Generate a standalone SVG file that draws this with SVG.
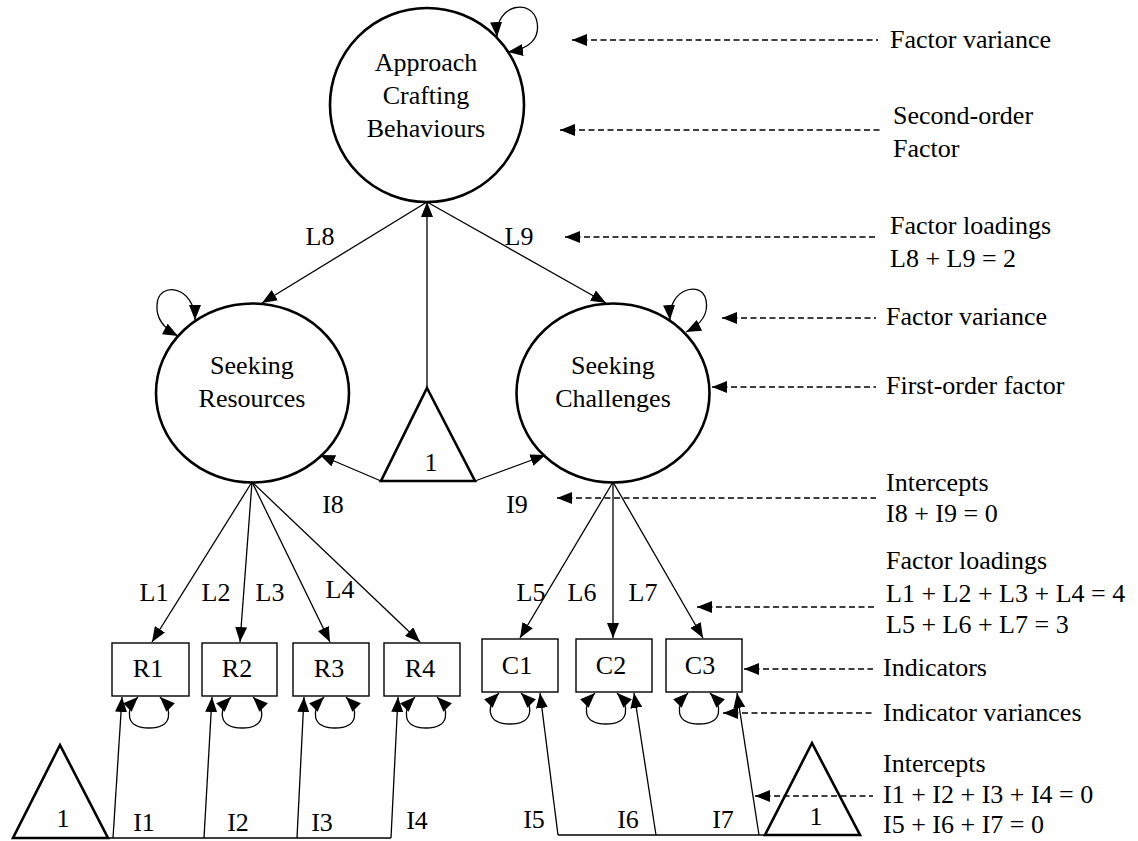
<svg xmlns="http://www.w3.org/2000/svg" width="1138" height="841" viewBox="0 0 1138 841" font-family="'Liberation Serif', 'Times New Roman', Times, 'DejaVu Serif', serif">
<defs>
<marker id="ah" markerUnits="userSpaceOnUse" markerWidth="15" markerHeight="12" refX="15" refY="6" orient="auto-start-reverse" viewBox="0 0 15 12"><path d="M0,0 L15,6 L0,12 z" fill="#000"/></marker>
</defs>
<style>
text{font-family:"Liberation Serif","Times New Roman",Times,"DejaVu Serif",serif;font-size:26px;fill:#000}
.c{text-anchor:middle}
.lat{fill:#fff;stroke:#000;stroke-width:2.6}
.box{fill:#fff;stroke:#000;stroke-width:1.4}
.tri{fill:#fff;stroke:#000;stroke-width:2.6}
.e{fill:none;stroke:#000;stroke-width:1.3}
.a{marker-end:url(#ah)}
.b{marker-start:url(#ah);marker-end:url(#ah)}
.d{fill:none;stroke:#000;stroke-width:1.3;stroke-dasharray:6 3.5;marker-start:url(#ah)}
</style>
<rect width="1138" height="841" fill="#fff"/>

<g id="node-acb"><circle class="lat" cx="427" cy="105" r="97"/>
<text class="c" x="426" y="71">Approach</text><text class="c" x="426" y="104">Crafting</text><text class="c" x="426" y="137">Behaviours</text></g>
<g id="node-sr"><ellipse class="lat" cx="252.5" cy="393" rx="96.5" ry="89.5"/>
<text class="c" x="252" y="374">Seeking</text><text class="c" x="252" y="407">Resources</text></g>
<g id="node-sc"><ellipse class="lat" cx="613" cy="393" rx="96.5" ry="89.5"/>
<text class="c" x="613" y="374">Seeking</text><text class="c" x="613" y="407">Challenges</text></g>
<g id="node-const-mid"><polygon class="tri" points="427,388 475,481 381,481"/><text class="c" x="431" y="471">1</text></g>
<g id="node-const-left"><polygon class="tri" points="60,745 108,838 13,838"/><text class="c" x="63" y="827">1</text></g>
<g id="node-const-right"><polygon class="tri" points="812,743 860,835 765,835"/><text class="c" x="816" y="825">1</text></g>
<g id="node-R1"><rect class="box" x="112" y="643" width="77" height="53"/><text class="c" x="148" y="677">R1</text></g>
<g id="node-R2"><rect class="box" x="202" y="643" width="75" height="53"/><text class="c" x="237" y="677">R2</text></g>
<g id="node-R3"><rect class="box" x="293" y="643" width="76" height="53"/><text class="c" x="329" y="677">R3</text></g>
<g id="node-R4"><rect class="box" x="384" y="643" width="76" height="53"/><text class="c" x="420" y="677">R4</text></g>
<g id="node-C1"><rect class="box" x="482" y="639" width="76" height="53"/><text class="c" x="517" y="674">C1</text></g>
<g id="node-C2"><rect class="box" x="576" y="639" width="76" height="53"/><text class="c" x="611" y="674">C2</text></g>
<g id="node-C3"><rect class="box" x="666" y="639" width="76" height="53"/><text class="c" x="700" y="674">C3</text></g>

<g id="connectors">
<path class="e b" d="M497,37 C495,3 533,-2 537,22 C540,38 530,49 508,52"/>
<path class="e b" d="M195,320 C195,286 158,280 157,305 C156,318 163,328 178,336"/>
<path class="e b" d="M670,320 C668,288 702,280 706,300 C709,315 700,325 686,332"/>
<path class="e a" d="M427,202 L262,303"/>
<path class="e a" d="M427,202 L606,303"/>
<path class="e a" d="M427,388 L427,202"/>
<path class="e a" d="M381,481 L320,455"/>
<path class="e a" d="M475,481 L545.5,455"/>
<path class="e a" d="M252,482 L152,642"/>
<path class="e a" d="M252,482 L240,642"/>
<path class="e a" d="M252,482 L330,642"/>
<path class="e a" d="M252,482 L420,642"/>
<path class="e a" d="M613,482 L520,638"/>
<path class="e a" d="M613,482 L613,638"/>
<path class="e a" d="M613,482 L703,638"/>
<path class="e b" d="M138,697 C125,710 125,728 149,728 C173,728 173,710 160,697"/>
<path class="e b" d="M231,697 C218,710 218,728 242,728 C266,728 266,710 253,697"/>
<path class="e b" d="M324,697 C311,710 311,728 335,728 C359,728 359,710 346,697"/>
<path class="e b" d="M415,697 C402,710 402,728 426,728 C450,728 450,710 437,697"/>
<path class="e b" d="M499,693 C486,706 486,724 510,724 C534,724 534,706 521,693"/>
<path class="e b" d="M595,693 C582,706 582,724 606,724 C630,724 630,706 617,693"/>
<path class="e b" d="M688,693 C675,706 675,724 699,724 C723,724 723,706 710,693"/>
<path class="e" d="M108,838 L391,838"/>
<path class="e a" d="M113,838 L122,697"/>
<path class="e a" d="M204,838 L212,697"/>
<path class="e a" d="M297,838 L304,697"/>
<path class="e a" d="M391,838 L398,697"/>
<path class="e" d="M558,835 L765,835"/>
<path class="e a" d="M558,835 L540,693"/>
<path class="e a" d="M656,835 L634,693"/>
<path class="e a" d="M759,835 L737,693"/>
<path class="d" d="M572,40 L878,40"/>
<path class="d" d="M560,130 L880,130"/>
<path class="d" d="M565,237 L878,237"/>
<path class="d" d="M722,318 L876,318"/>
<path class="d" d="M712,387 L876,387"/>
<path class="d" d="M557,498 L876,498"/>
<path class="d" d="M697,607 L876,607"/>
<path class="d" d="M744,669 L873,669"/>
<path class="d" d="M723,713 L872,713"/>
<path class="d" d="M755,796 L873,796"/>
</g>

<g id="labels">
<text class="c" x="320" y="245">L8</text>
<text class="c" x="519" y="245">L9</text>
<text class="c" x="333" y="513">I8</text>
<text class="c" x="517" y="513">I9</text>
<text class="c" x="154" y="601">L1</text>
<text class="c" x="216" y="601">L2</text>
<text class="c" x="270" y="601">L3</text>
<text class="c" x="340" y="598">L4</text>
<text class="c" x="531" y="601">L5</text>
<text class="c" x="582" y="601">L6</text>
<text class="c" x="643" y="601">L7</text>
<text class="c" x="144" y="831">I1</text>
<text class="c" x="238" y="831">I2</text>
<text class="c" x="322" y="831">I3</text>
<text class="c" x="417" y="829">I4</text>
<text class="c" x="534" y="828">I5</text>
<text class="c" x="628" y="828">I6</text>
<text class="c" x="723" y="828">I7</text>
<text x="890" y="48">Factor variance</text>
<text x="893" y="124">Second-order</text>
<text x="893" y="157">Factor</text>
<text x="890" y="234">Factor loadings</text>
<text x="890" y="267">L8 + L9 = 2</text>
<text x="886" y="325">Factor variance</text>
<text x="886" y="394">First-order factor</text>
<text x="886" y="491">Intercepts</text>
<text x="886" y="522">I8 + I9 = 0</text>
<text x="886" y="569">Factor loadings</text>
<text x="886" y="602">L1 + L2 + L3 + L4 = 4</text>
<text x="886" y="633">L5 + L6 + L7 = 3</text>
<text x="883" y="676">Indicators</text>
<text x="883" y="721">Indicator variances</text>
<text x="883" y="772">Intercepts</text>
<text x="883" y="803">I1 + I2 + I3 + I4 = 0</text>
<text x="883" y="833">I5 + I6 + I7 = 0</text>
</g>
</svg>
